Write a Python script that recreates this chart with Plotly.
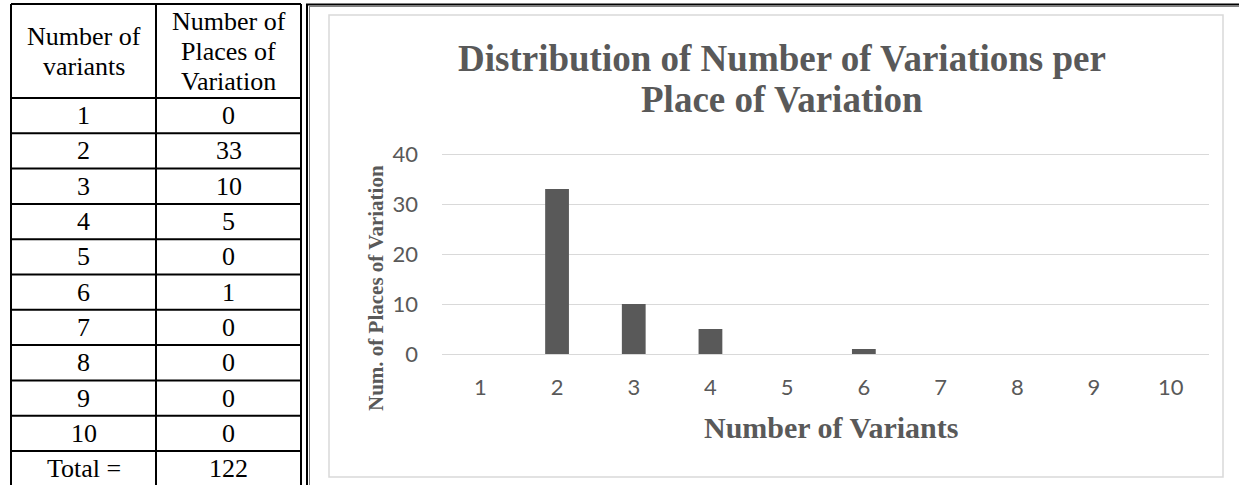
import plotly.graph_objects as go

# ---------------- data ----------------
variants = [1, 2, 3, 4, 5, 6, 7, 8, 9, 10]
places = [0, 33, 10, 5, 0, 1, 0, 0, 0, 0]
total_label = "Total ="
total_value = "122"
header_col1 = ["Number of", "variants"]
header_col2 = ["Number of", "Places of", "Variation"]
y_ticks = [0, 10, 20, 30, 40]
title_lines = ["Distribution of Number of Variations per", "Place of Variation"]
x_title = "Number of Variants"
y_title = "Num. of Places of Variation"

# ---------------- layout helpers ----------------
W, H = 1239, 485
GREY = "#595959"
SERIF = "Liberation Serif, Times New Roman, serif"
SANS = "Lato, Calibri, sans-serif"


def fx(px):
    return px / W


def fy(py):
    return 1 - py / H


# chart plot area (pixels); y=40 sits at PT, y=0 at PB
PL, PR, PT, PB = 442, 1209, 154, 354
PX_PER_UNIT = (PB - PT) / 40.0
Y_TOP = 40 + 3 / PX_PER_UNIT  # a little headroom so the 40 gridline is drawn

# table geometry
T_LEFT, COL_W = 11, 145
T_TOP, ROW_H, HEAD_H = 4, 35.3, 94
h = HEAD_H / ROW_H  # header height in row units
X2_DOMAIN_R = 320

fig = go.Figure()

fig.add_trace(go.Bar(
    x=variants, y=places, width=0.31,
    marker=dict(color=GREY, line=dict(width=0)),
    xaxis="x", yaxis="y", showlegend=False, hoverinfo="x+y",
))

# invisible helper trace for table axes
fig.add_trace(go.Scatter(x=[0.5], y=[0.5], mode="markers", marker=dict(opacity=0),
                         xaxis="x2", yaxis="y2", showlegend=False, hoverinfo="skip"))

shapes = []
annotations = []

# ---- table (drawn on its own axes: columns / row units) ----
n_rows = len(variants) + 1
for k in range(n_rows + 2):
    yv = 0 if k == 0 else h + k - 1
    shapes.append(dict(type="line", xref="x2", yref="y2", x0=0, x1=2, y0=yv, y1=yv,
                       line=dict(color="black", width=2)))
for c in range(3):
    shapes.append(dict(type="line", xref="x2", yref="y2", x0=c, x1=c, y0=0, y1=h + n_rows,
                       line=dict(color="black", width=2)))

TFONT = dict(family=SERIF, size=26, color="black")
LS = 30 / ROW_H
for col, lines in ((0, header_col1), (1, header_col2)):
    n = len(lines)
    for j, t in enumerate(lines):
        yc = h / 2 + (j - (n - 1) / 2) * LS
        annotations.append(dict(text=t, xref="x2", yref="y2", x=col + 0.5, y=yc,
                                showarrow=False, xanchor="center", yanchor="middle", font=TFONT))
for i, (v, p) in enumerate(zip(variants, places)):
    yc = h + i + 0.5
    annotations.append(dict(text=str(v), xref="x2", yref="y2", x=0.5, y=yc, showarrow=False,
                            xanchor="center", yanchor="middle", font=TFONT))
    annotations.append(dict(text=str(p), xref="x2", yref="y2", x=1.5, y=yc, showarrow=False,
                            xanchor="center", yanchor="middle", font=TFONT))
annotations.append(dict(text=total_label, xref="x2", yref="y2", x=0.5, y=h + 10.5, showarrow=False,
                        xanchor="center", yanchor="middle", font=TFONT))
annotations.append(dict(text=total_value, xref="x2", yref="y2", x=1.5, y=h + 10.5, showarrow=False,
                        xanchor="center", yanchor="middle", font=TFONT))

# ---- chart frame ----
shapes.append(dict(type="line", xref="paper", yref="paper", x0=fx(307), x1=fx(307), y0=fy(4), y1=0,
                   line=dict(color="black", width=2)))
shapes.append(dict(type="line", xref="paper", yref="paper", x0=fx(309.5), x1=fx(309.5), y0=fy(6), y1=0,
                   line=dict(color="#808080", width=1)))
shapes.append(dict(type="line", xref="paper", yref="paper", x0=fx(306), x1=1, y0=fy(4.5), y1=fy(4.5),
                   line=dict(color="black", width=2)))
shapes.append(dict(type="line", xref="paper", yref="paper", x0=fx(309), x1=1, y0=fy(6.5), y1=fy(6.5),
                   line=dict(color="#808080", width=1)))
shapes.append(dict(type="rect", xref="paper", yref="paper", x0=fx(329), x1=fx(1223), y0=fy(15), y1=fy(477),
                   line=dict(color="#d9d9d9", width=1.5), layer="below"))

# ---- chart titles ----
TT = dict(family=SERIF, size=37, color=GREY, weight="bold")
annotations.append(dict(text=title_lines[0], xref="paper", yref="paper", x=fx(782), y=fy(58),
                        showarrow=False, xanchor="center", yanchor="middle", font=TT))
annotations.append(dict(text=title_lines[1], xref="paper", yref="paper", x=fx(782), y=fy(100),
                        showarrow=False, xanchor="center", yanchor="middle", font=TT))
annotations.append(dict(text=x_title, xref="paper", yref="paper", x=fx(960), y=fy(427),
                        showarrow=False, xanchor="right", yanchor="middle",
                        font=dict(family=SERIF, size=30, color=GREY, weight="bold")))
annotations.append(dict(text=y_title, xref="paper", yref="paper", x=fx(376), y=fy(288), textangle=-90,
                        showarrow=False, xanchor="center", yanchor="middle",
                        font=dict(family=SERIF, size=21, color=GREY, weight="bold")))

x2_range = [(0 - T_LEFT) / COL_W, (X2_DOMAIN_R - T_LEFT) / COL_W]
y2_range = [(H - T_TOP) / ROW_H, (0 - T_TOP) / ROW_H]

fig.update_layout(
    width=W, height=H, autosize=False,
    margin=dict(l=0, r=0, t=0, b=0, pad=0, autoexpand=False),
    paper_bgcolor="white", plot_bgcolor="white",
    showlegend=False,
    xaxis=dict(domain=[fx(PL), fx(PR)], range=[0.5, 10.5], tickmode="array", tickvals=variants,
               ticktext=[str(v) for v in variants], showgrid=False, zeroline=False, showline=False,
               ticks="", tickfont=dict(family=SANS, size=22, color=GREY), ticklabelstandoff=18,
               anchor="y", fixedrange=True, automargin=False),
    yaxis=dict(domain=[fy(PB), fy(PT - 3)], range=[0, Y_TOP], tickmode="array", tickvals=y_ticks,
               showgrid=True, gridcolor="#d9d9d9", gridwidth=1.3, zeroline=True, zerolinecolor="#d9d9d9",
               zerolinewidth=1.3, showline=False, ticks="",
               tickfont=dict(family=SANS, size=22, color=GREY), ticklabelstandoff=23,
               anchor="x", fixedrange=True, automargin=False),
    xaxis2=dict(domain=[0, fx(X2_DOMAIN_R)], range=x2_range, visible=False, anchor="y2",
                fixedrange=True, automargin=False),
    yaxis2=dict(domain=[0, 1], range=y2_range, visible=False, anchor="x2",
                fixedrange=True, automargin=False),
    shapes=shapes,
    annotations=annotations,
)

fig.write_html(
    "out.html",
    config={"displayModeBar": False, "responsive": False},
    post_script=(
        "document.documentElement.style.margin='0px';"
        "document.body.style.margin='0px';"
        "document.body.style.overflow='hidden';"
    ),
)
